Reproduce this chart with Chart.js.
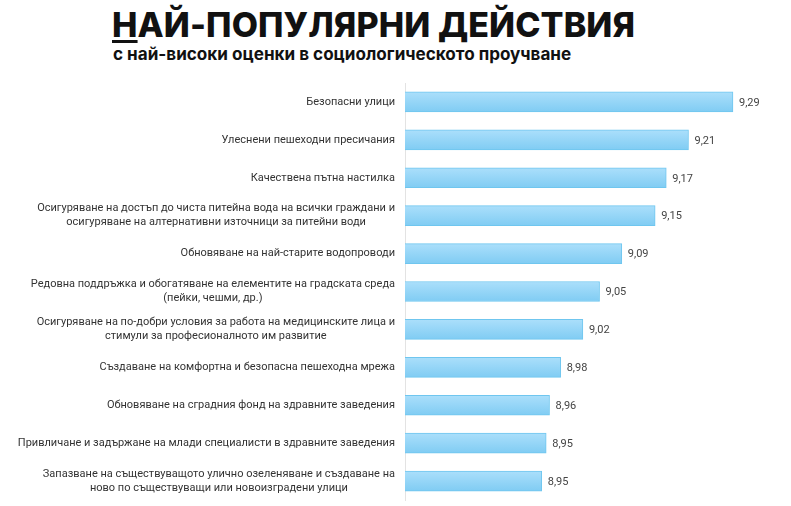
<!DOCTYPE html>
<html><head><meta charset="utf-8">
<script src="https://cdn.jsdelivr.net/npm/chart.js@4"></script>
<style>
html,body{margin:0;padding:0;background:#fff;}
#wrap{position:relative;width:791px;height:506px;}
#title{position:absolute;left:112px;top:5px;font-family:"Inter","Open Sans",sans-serif;font-weight:800;font-size:34px;color:#111;letter-spacing:0.1px;white-space:nowrap;line-height:40px;}
#title u{text-decoration-thickness:3px;text-underline-offset:3px;}
#sub{position:absolute;left:113px;top:43px;font-family:"Inter","Open Sans",sans-serif;font-weight:700;font-size:17.1px;color:#111;white-space:nowrap;}
canvas{position:absolute;left:0;top:0;}
</style></head>
<body><div id="wrap">
<div id="title"><u>Н</u>АЙ-ПОПУЛЯРНИ ДЕЙСТВИЯ</div>
<div id="sub">с най-високи оценки в социологическото проучване</div>
<canvas id="c" width="791" height="506"></canvas>
</div>
<script>
const categories = [
  ["Безопасни улици"],
  ["Улеснени пешеходни пресичания"],
  ["Качествена пътна настилка"],
  ["Осигуряване на достъп до чиста питейна вода на всички граждани и","осигуряване на алтернативни източници за питейни води"],
  ["Обновяване на най-старите водопроводи"],
  ["Редовна поддръжка и обогатяване на елементите на градската среда","(пейки, чешми, др.)"],
  ["Осигуряване на по-добри условия за работа на медицинските лица и","стимули за професионалното им развитие"],
  ["Създаване на комфортна и безопасна пешеходна мрежа"],
  ["Обновяване на сградния фонд на здравните заведения"],
  ["Привличане и задържане на млади специалисти в здравните заведения"],
  ["Запазване на съществуващото улично озеленяване и създаване на","ново по съществуващи или новоизградени улици"]
];
const scores = [9.29, 9.21, 9.17, 9.15, 9.09, 9.05, 9.02, 8.98, 8.96, 8.954, 8.946];
const axisMin = 8.7;
const axisMax = 9.38;

const labelFont = '11px Roboto, "Noto Sans", sans-serif';

const labelsPlugin = {
  id: 'sideLabels',
  afterDraw(chart) {
    const ctx = chart.ctx;
    const ys = chart.scales.y;
    const meta = chart.getDatasetMeta(0);
    ctx.save();
    ctx.font = labelFont;
    ctx.fillStyle = '#333';
    ctx.textBaseline = 'middle';
    const rightEdge = chart.chartArea.left - 10;
    const lh = 14;
    chart.data.labels.forEach((lines, i) => {
      const yc = ys.getPixelForValue(i);
      const widths = lines.map(l => ctx.measureText(l).width);
      const bw = Math.max(...widths);
      const cx = rightEdge - bw / 2;
      ctx.textAlign = 'center';
      const y0 = yc - (lines.length - 1) * lh / 2;
      lines.forEach((l, k) => ctx.fillText(l, cx, y0 + k * lh));
    });
    ctx.fillStyle = '#444';
    ctx.textAlign = 'left';
    meta.data.forEach((bar, i) => {
      const v = chart.data.datasets[0].data[i];
      ctx.fillText(v.toFixed(2).replace('.', ','), bar.x + 6, bar.y + 1);
    });
    ctx.restore();
  }
};

new Chart(document.getElementById('c'), {
  type: 'bar',
  data: {
    labels: categories,
    datasets: [{
      data: scores,
      backgroundColor(context) {
        const chart = context.chart;
        const ys = chart.scales && chart.scales.y;
        if (!ys || context.dataIndex === undefined) return '#93d5f7';
        const y = ys.getPixelForValue(context.dataIndex);
        if (!isFinite(y)) return '#93d5f7';
        const g = chart.ctx.createLinearGradient(0, y - 10, 0, y + 10);
        g.addColorStop(0, '#abdffb');
        g.addColorStop(1, '#80ccf3');
        return g;
      },
      borderColor: '#6fc6ef',
      borderWidth: 1,
      borderSkipped: 'start',
      barThickness: 20
    }]
  },
  options: {
    indexAxis: 'y',
    responsive: false,
    animation: false,
    layout: { padding: { left: 405, right: 8, top: 83, bottom: 6 } },
    plugins: { legend: { display: false }, tooltip: { enabled: false } },
    scales: {
      x: { display: false, min: axisMin, max: axisMax },
      y: {
        display: true,
        ticks: { display: false },
        grid: { display: false },
        border: { display: true, color: '#e3e3e3', width: 1 },
        afterFit(scale) { scale.width = 0; }
      }
    }
  },
  plugins: [labelsPlugin]
});
</script>
</body></html>
